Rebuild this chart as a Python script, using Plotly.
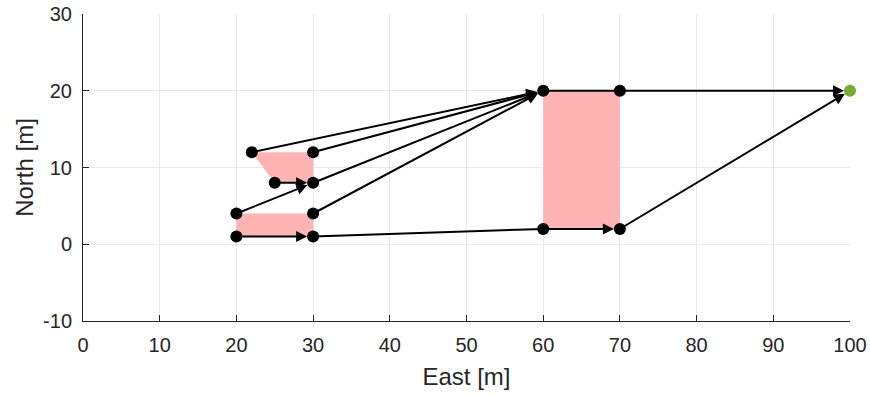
import plotly.graph_objects as go

# Node positions
node_x = [22, 30, 25, 30, 20, 30, 20, 30, 60, 70, 60, 70]
node_y = [12, 12, 8, 8, 4, 4, 1, 1, 20, 20, 2, 2]
goal_x = [100]
goal_y = [20]

# Directed edges (arrows)
arrow_x0 = [22, 30, 25, 30, 20, 30, 20, 60, 70, 70]
arrow_y0 = [12, 12, 8, 8, 4, 4, 1, 2, 2, 20]
arrow_x1 = [60, 60, 30, 60, 30, 60, 30, 70, 100, 100]
arrow_y1 = [20, 20, 8, 20, 8, 20, 1, 2, 20, 20]

# Plain edges (no arrowhead)
line_x0 = [30, 60]
line_y0 = [1, 20]
line_x1 = [60, 70]
line_y1 = [2, 20]

# Shaded regions
poly1_x = [22, 30, 30, 25]
poly1_y = [12, 12, 8, 8]
poly2_x = [20, 30, 30, 20]
poly2_y = [4, 4, 1, 1]
poly3_x = [60, 70, 70, 60]
poly3_y = [20, 20, 2, 2]

x_ticks = [0, 10, 20, 30, 40, 50, 60, 70, 80, 90, 100]
y_ticks = [-10, 0, 10, 20, 30]
y_ticktext = ["-10", "0", "10", "20", "30"]

fig = go.Figure()

for px, py in [(poly1_x, poly1_y), (poly2_x, poly2_y), (poly3_x, poly3_y)]:
    fig.add_trace(go.Scatter(x=px + [px[0]], y=py + [py[0]], mode="lines",
                             fill="toself", fillcolor="#ffb3b3",
                             line=dict(width=0, color="#ffb3b3"),
                             hoverinfo="skip", showlegend=False))

for a, b, c, d in zip(line_x0, line_y0, line_x1, line_y1):
    fig.add_trace(go.Scatter(x=[a, c], y=[b, d], mode="lines",
                             line=dict(color="black", width=2),
                             hoverinfo="skip", showlegend=False))

for a, b, c, d in zip(arrow_x0, arrow_y0, arrow_x1, arrow_y1):
    fig.add_annotation(x=c, y=d, ax=a, ay=b, xref="x", yref="y",
                       axref="x", ayref="y", showarrow=True, text="",
                       arrowhead=2, arrowsize=1.1, arrowwidth=2,
                       arrowcolor="black", standoff=6)

fig.add_trace(go.Scatter(x=node_x, y=node_y, mode="markers",
                         marker=dict(color="black", size=12),
                         cliponaxis=False, showlegend=False))
fig.add_trace(go.Scatter(x=goal_x, y=goal_y, mode="markers",
                         marker=dict(color="#77ac30", size=12),
                         cliponaxis=False, showlegend=False))

tick_font = dict(family="Liberation Sans, Arial, sans-serif", size=20, color="#262626")
title_font = dict(family="Liberation Sans, Arial, sans-serif", size=24, color="#262626")

fig.update_layout(
    width=870, height=396,
    margin=dict(l=83, r=20, t=14, b=75),
    plot_bgcolor="white", paper_bgcolor="white",
    font=tick_font,
    xaxis=dict(range=[0, 100], tickvals=x_ticks, showgrid=True,
               gridcolor="#e8e8e8", gridwidth=1, zeroline=False,
               showline=True, linecolor="#262626", linewidth=1,
               ticks="inside", ticklen=6, tickcolor="#262626",
               automargin=False, ticklabelstandoff=6,
               ticklabeloverflow="allow",
               title=dict(text="East [m]", font=title_font, standoff=13),
               tickfont=tick_font),
    yaxis=dict(range=[-10, 30], tickvals=y_ticks, ticktext=y_ticktext,
               showgrid=True, gridcolor="#e8e8e8", gridwidth=1,
               zeroline=False, showline=True, linecolor="#262626",
               linewidth=1, ticks="inside", ticklen=6, tickcolor="#262626",
               automargin=False, ticklabelstandoff=6,
               ticklabeloverflow="allow",
               title=dict(text="North [m]", font=title_font, standoff=2),
               tickfont=tick_font),
)

fig.write_html("out.html",
               config={"displayModeBar": False},
               post_script="document.body.style.margin='0';document.body.style.overflow='hidden';")
